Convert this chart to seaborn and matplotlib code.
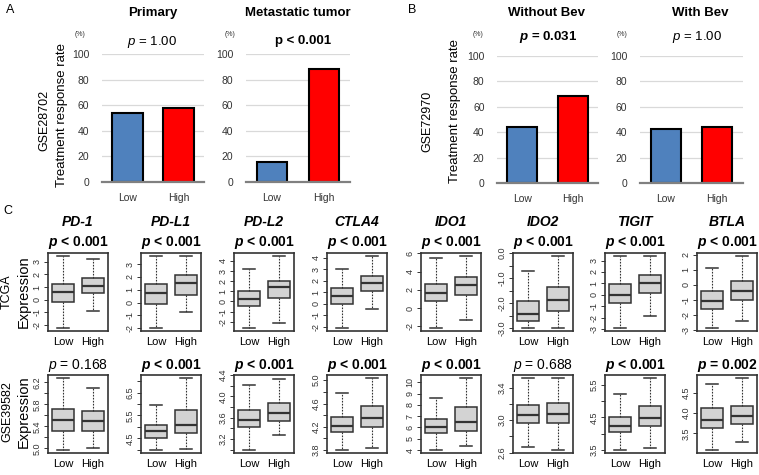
import numpy as np
import pandas as pd
import matplotlib
matplotlib.use("Agg")
import matplotlib.pyplot as plt
import seaborn as sns
from matplotlib import font_manager

# fonts: Arial-like look
plt.rcParams['font.family'] = ['Liberation Sans', 'DejaVu Sans']
plt.rcParams['mathtext.fontset'] = 'custom'
plt.rcParams['mathtext.rm'] = 'Liberation Sans'
plt.rcParams['mathtext.it'] = 'Liberation Sans:italic'
plt.rcParams['mathtext.bf'] = 'Liberation Sans:bold'
plt.rcParams['mathtext.bfit'] = 'Liberation Sans:bold:italic'

installed = {f.name for f in font_manager.fontManager.ttflist}
NARROW = 'Liberation Sans Narrow' if 'Liberation Sans Narrow' in installed else 'Liberation Sans'

# ---- data: panels A and B (treatment response rate, %) ----
BAR_GROUPS = ['Low', 'High']
BAR_COLORS = ['#4F81BD', '#FF0000']
primary = [53.8, 57.7]
metastatic = [16.0, 88.5]
without_bev = [44.2, 68.8]
with_bev = [42.8, 44.0]
bar_titles = ['Primary', 'Metastatic tumor', 'Without Bev', 'With Bev']

# ---- data: panel C boxplots (min, q1, median, q3, max) ----
GENES = ['PD-1', 'PD-L1', 'PD-L2', 'CTLA4', 'IDO1', 'IDO2', 'TIGIT', 'BTLA']
tcga_low = [[-2.24, -0.16, 0.60, 1.26, 3.47],
            [-2.00, -0.13, 0.73, 1.43, 3.64],
            [-2.62, -0.43, 0.26, 1.08, 3.20],
            [-2.12, 0.00, 0.64, 1.36, 3.04],
            [-2.18, 0.73, 1.64, 2.65, 5.45],
            [-3.00, -2.71, -2.43, -1.91, -0.73],
            [-2.92, -0.73, 0.00, 0.93, 3.41],
            [-2.89, -1.60, -1.07, -0.38, 1.10]]
tcga_high = [[-0.87, 0.53, 1.05, 1.74, 3.26],
             [-0.78, 0.60, 1.50, 2.13, 3.64],
             [-2.07, 0.39, 1.38, 2.03, 4.49],
             [-0.46, 1.07, 1.80, 2.38, 4.17],
             [-1.27, 1.45, 2.55, 3.45, 5.71],
             [-3.00, -2.31, -1.87, -1.37, -0.11],
             [-1.84, 0.20, 1.02, 1.75, 3.41],
             [-2.44, -1.00, -0.38, 0.27, 1.93]]
gse_low = [[4.97, 5.31, 5.51, 5.72, 6.28],
           [3.98, 4.53, 4.80, 5.07, 5.95],
           [2.99, 3.42, 3.55, 3.74, 4.22],
           [3.80, 4.11, 4.22, 4.36, 4.78],
           [4.00, 5.48, 6.05, 6.73, 8.57],
           [2.67, 2.96, 3.06, 3.18, 3.52],
           [3.49, 4.05, 4.24, 4.52, 5.23],
           [3.08, 3.63, 3.83, 4.12, 4.73]]
gse_high = [[5.00, 5.31, 5.49, 5.68, 6.10],
            [4.02, 4.75, 5.07, 5.73, 7.15],
            [3.27, 3.53, 3.69, 3.88, 4.33],
            [3.84, 4.19, 4.35, 4.55, 5.04],
            [4.36, 5.69, 6.49, 7.77, 10.38],
            [2.63, 2.97, 3.07, 3.21, 3.52],
            [3.55, 4.24, 4.47, 4.86, 5.72],
            [3.28, 3.74, 3.93, 4.18, 4.88]]

tcga_ticks = [[-2, -1, 0, 1, 2, 3], [-2, -1, 0, 1, 2, 3],
              [-2, -1, 0, 1, 2, 3, 4], [-2, -1, 0, 1, 2, 3, 4],
              [-2, 0, 2, 4, 6], [-3, -2.5, -2, -1.5, -1, -0.5, 0],
              [-3, -2, -1, 0, 1, 2, 3], [-3, -2, -1, 0, 1, 2]]
tcga_ticklabels = [['-2', '-1', '0', '1', '2', '3'], ['-2', '-1', '0', '1', '2', '3'],
                   ['-2', '-1', '0', '1', '2', '3', '4'], ['-2', '-1', '0', '1', '2', '3', '4'],
                   ['-2', '0', '2', '4', '6'], ['-3.0', '', '-2.0', '', '-1.0', '', '0.0'],
                   ['-3', '-2', '-1', '0', '1', '2', '3'], ['-3', '-2', '-1', '0', '1', '2']]
gse_ticks = [[5.0, 5.2, 5.4, 5.6, 5.8, 6.0, 6.2], [4.0, 4.5, 5.0, 5.5, 6.0, 6.5, 7.0],
             [3.0, 3.2, 3.4, 3.6, 3.8, 4.0, 4.2, 4.4], [3.8, 4.0, 4.2, 4.4, 4.6, 4.8, 5.0],
             [4, 5, 6, 7, 8, 9, 10], [2.6, 2.8, 3.0, 3.2, 3.4],
             [3.5, 4.0, 4.5, 5.0, 5.5], [3.5, 4.0, 4.5]]
gse_ticklabels = [['5.0', '', '5.4', '', '5.8', '', '6.2'], ['', '4.5', '', '5.5', '', '6.5', ''],
                  ['', '3.2', '', '3.6', '', '4.0', '', '4.4'], ['3.8', '', '4.2', '', '4.6', '', '5.0'],
                  ['4', '5', '6', '7', '8', '9', '10'], ['2.6', '', '3.0', '', '3.4'],
                  ['3.5', '', '4.5', '', '5.5'], ['3.5', '4.0', '4.5']]

# p-values: (text after p, bold)
tcga_p = [('< 0.001', True)] * 8
gse_p = [('= 0.168', False), ('< 0.001', True), ('< 0.001', True), ('< 0.001', True),
         ('< 0.001', True), ('= 0.688', False), ('< 0.001', True), ('= 0.002', True)]

W, H = 759, 475
fig = plt.figure(figsize=(W / 100, H / 100), dpi=100)


def rect(x0, y0, x1, y1):
    return [x0 / W, 1 - y1 / H, (x1 - x0) / W, (y1 - y0) / H]


def ftext(x, y, s, **kw):
    kw.setdefault('ha', 'center')
    kw.setdefault('va', 'center')
    fig.text(x / W, 1 - y / H, s, **kw)


def ptext(rest, bold):
    if bold:
        return r'$\mathbfit{p}$ ' + rest
    return r'$\mathit{p}$ ' + rest


# ---- panels A and B ----
bar_axes = [(102, 54, 204, 182), (246, 54, 350, 182), (497, 56, 598, 183), (640, 56, 743, 183)]
bar_vals = [primary, metastatic, without_bev, with_bev]
for r, vals in zip(bar_axes, bar_vals):
    ax = fig.add_axes(rect(*r))
    sns.barplot(x=BAR_GROUPS, y=vals, hue=BAR_GROUPS, palette=BAR_COLORS, width=0.59,
                edgecolor='black', linewidth=1.5, saturation=1, legend=False, ax=ax)
    ax.set_ylim(0, 100)
    ax.set_xlim(-0.5, 1.5)
    ax.set_yticks(range(0, 101, 20))
    ax.grid(axis='y', color='#d9d9d9', linewidth=0.9)
    ax.set_axisbelow(True)
    for s in ['top', 'right', 'left']:
        ax.spines[s].set_visible(False)
    ax.spines['bottom'].set_color('#808080')
    ax.spines['bottom'].set_linewidth(1.6)
    ax.tick_params(axis='y', length=0, pad=9, labelsize=7.5, labelcolor='#333333')
    ax.tick_params(axis='x', length=0, pad=8, labelsize=7.5, labelcolor='#333333')
    ax.set_xlabel('')
    ax.set_ylabel('')

ftext(10, 10, 'A', fontsize=9)
ftext(412, 10, 'B', fontsize=9)
for x, t in zip([153, 298, 547, 700], bar_titles):
    ftext(x, 13, t, fontsize=9.5, fontweight='bold')
for x in [80, 230, 478, 622]:
    ftext(x, 34, '(%)', fontsize=5, color='#333333')
ftext(152, 42, ptext('= 1.00', False), fontsize=9.5)
ftext(303, 41, 'p < 0.001', fontsize=9.5, fontweight='bold')
ftext(548, 37, ptext('= 0.031', True), fontsize=9.5, fontweight='bold')
ftext(697, 37, ptext('= 1.00', False), fontsize=9.5)
ftext(62, 115, 'Treatment response rate', fontsize=9.5, rotation=90)
ftext(44, 120, 'GSE28702', fontsize=9, rotation=90)
ftext(455, 111, 'Treatment response rate', fontsize=9.5, rotation=90)
ftext(427, 121, 'GSE72970', fontsize=9, rotation=90)

# ---- panel C ----
ftext(8, 211, 'C', fontsize=9)
box_lefts = [48, 141, 234, 327, 421, 513, 605, 697]
box_w = 60
rows = [(253, 331, tcga_low, tcga_high, tcga_ticks, tcga_ticklabels, tcga_p, 243),
        (375, 453, gse_low, gse_high, gse_ticks, gse_ticklabels, gse_p, 366)]

for top, bot, lows, highs, ticks, tlabels, pvals, py in rows:
    for i, x0 in enumerate(box_lefts):
        ax = fig.add_axes(rect(x0, top, x0 + box_w, bot))
        df = pd.DataFrame({'group': ['Low'] * 5 + ['High'] * 5,
                           'value': lows[i] + highs[i]})
        sns.boxplot(data=df, x='group', y='value', ax=ax, whis=(0, 100), width=0.74,
                    color='#d3d3d3', linecolor='#333333', linewidth=1.1, saturation=1,
                    showfliers=False,
                    whiskerprops=dict(linestyle=(0, (1.5, 1.2)), linewidth=0.8),
                    medianprops=dict(linewidth=1.6))
        lo = min(lows[i][0], highs[i][0])
        hi = max(lows[i][-1], highs[i][-1])
        pad = 0.04 * (hi - lo)
        ax.set_ylim(lo - pad, hi + pad)
        ax.set_xlim(-0.5, 1.5)
        ax.set_yticks(ticks[i])
        ax.set_yticklabels(tlabels[i], rotation=90, va='center')
        ax.tick_params(axis='y', length=3, width=0.7, pad=1.5, labelsize=6.5, color='#333333',
                       labelcolor='#333333')
        ax.tick_params(axis='x', length=0, pad=4, labelsize=8)
        for s in ax.spines.values():
            s.set_color('#333333')
            s.set_linewidth(1.2)
        ax.set_xlabel('')
        ax.set_ylabel('')
        rest, bold = pvals[i]
        ftext(x0 + box_w / 2, py, ptext(rest, bold), fontsize=10,
              fontweight='bold' if bold else 'normal')

for i, x0 in enumerate(box_lefts):
    ftext(x0 + box_w / 2, 222, GENES[i], fontsize=10, fontweight='bold', fontstyle='italic',
          family=NARROW)

ftext(7, 292, 'TCGA', fontsize=9, rotation=90)
ftext(24, 292, 'Expression', fontsize=10.5, rotation=90)
ftext(7, 412, 'GSE39582', fontsize=9, rotation=90)
ftext(24, 412, 'Expression', fontsize=10.5, rotation=90)

fig.savefig('out.png', dpi=100)
